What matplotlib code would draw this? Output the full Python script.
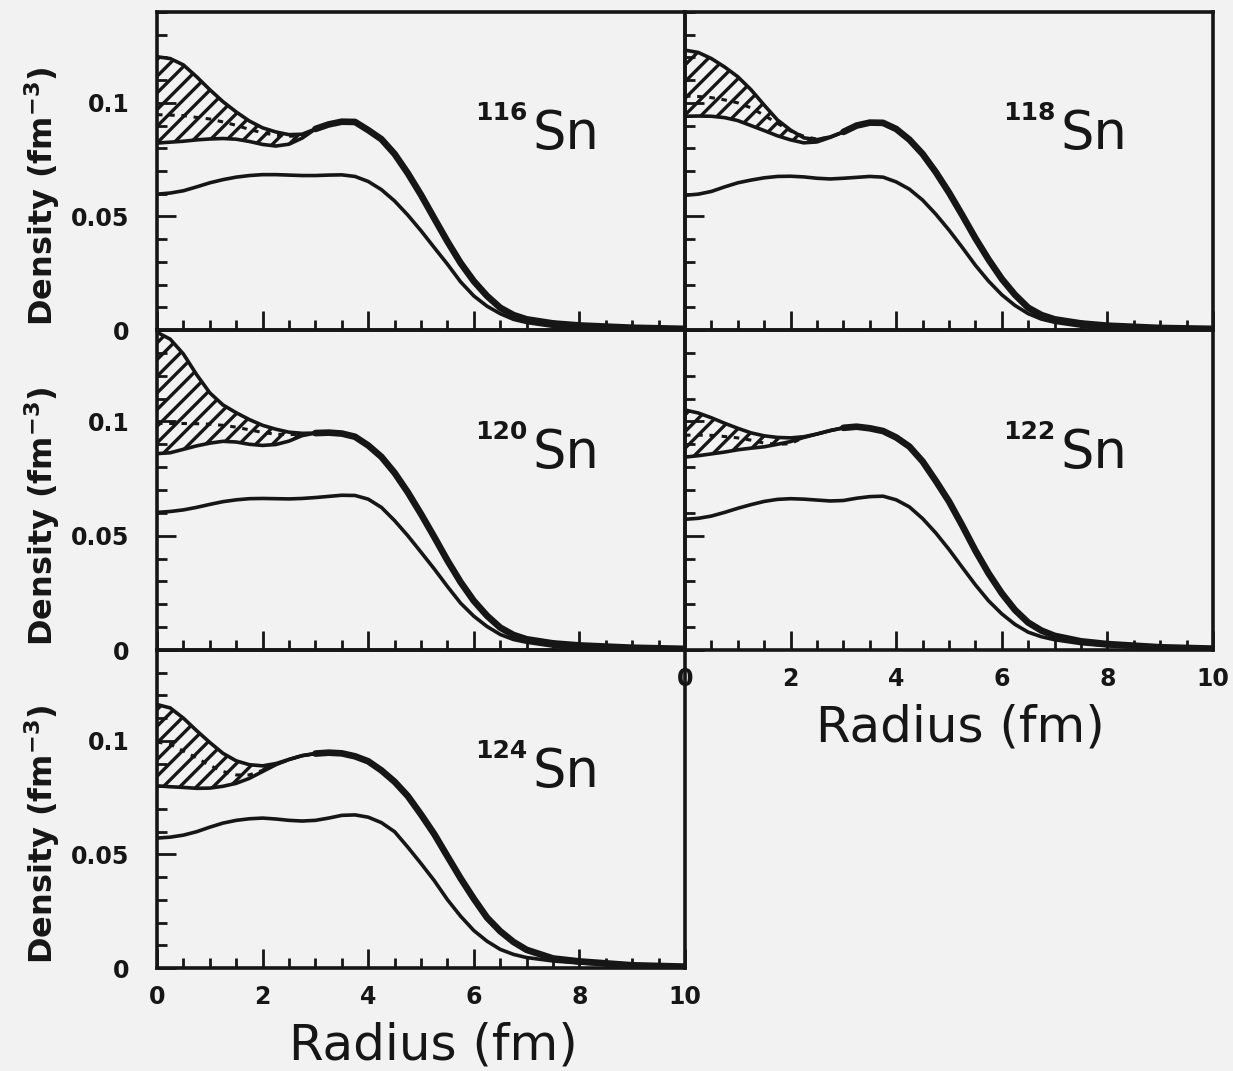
import numpy as np
import matplotlib.pyplot as plt
from matplotlib.ticker import MultipleLocator, FixedLocator

ink = '#161616'
paper = '#f2f2f2'

plt.rcParams['hatch.linewidth'] = 2.4
plt.rcParams['hatch.color'] = ink

# radius grids (fm)
r_band = [0, 0.25, 0.5, 0.75, 1, 1.25, 1.5, 1.75, 2, 2.25, 2.5, 2.75, 3]
r_tail = [3, 3.25, 3.5, 3.75, 4, 4.25, 4.5, 4.75, 5, 5.25, 5.5, 5.75, 6,
          6.25, 6.5, 6.75, 7, 7.5, 8, 9, 10]
r_full = [0, 0.25, 0.5, 0.75, 1, 1.25, 1.5, 1.75, 2, 2.25, 2.5, 2.75, 3,
          3.25, 3.5, 3.75, 4, 4.25, 4.5, 4.75, 5, 5.25, 5.5, 5.75, 6,
          6.25, 6.5, 6.75, 7, 7.5, 8, 9, 10]

# 116Sn
sn116_hi = [0.1203, 0.1195, 0.1167, 0.1115, 0.1058, 0.1005, 0.0960, 0.0920, 0.0890, 0.0872, 0.0860, 0.0862, 0.0885]
sn116_lo = [0.0823, 0.0827, 0.0831, 0.0837, 0.0841, 0.0843, 0.0840, 0.0830, 0.0817, 0.0810, 0.0818, 0.0845, 0.0885]
sn116_dash = [0.0948, 0.0946, 0.0944, 0.0936, 0.0929, 0.0916, 0.0901, 0.0883, 0.0868, 0.0858, 0.0853, 0.0855, 0.0885]
sn116_tot = [0.0885, 0.0905, 0.0917, 0.0916, 0.0880, 0.0840, 0.0775, 0.0690, 0.0595, 0.0492, 0.0390,
             0.0295, 0.0215, 0.0150, 0.0098, 0.0066, 0.0047, 0.0029, 0.0020, 0.0010, 0.0005]
sn116_in = [0.0598, 0.0603, 0.0613, 0.0630, 0.0648, 0.0662, 0.0673, 0.0680, 0.0684, 0.0684, 0.0682,
            0.0680, 0.0680, 0.0682, 0.0683, 0.0676, 0.0654, 0.0618, 0.0568, 0.0506, 0.0437, 0.0363,
            0.0290, 0.0212, 0.0150, 0.0105, 0.0072, 0.0047, 0.0033, 0.0016, 0.0008, 0.0002, 0.0001]

# 118Sn
sn118_hi = [0.1232, 0.1222, 0.1195, 0.1158, 0.1115, 0.1058, 0.0990, 0.0925, 0.0880, 0.0846, 0.0838, 0.0850, 0.0872]
sn118_lo = [0.0941, 0.0942, 0.0941, 0.0935, 0.0922, 0.0900, 0.0878, 0.0855, 0.0837, 0.0824, 0.0828, 0.0848, 0.0872]
sn118_dash = [0.1030, 0.1028, 0.1023, 0.1013, 0.1000, 0.0978, 0.0945, 0.0910, 0.0876, 0.0853, 0.0840, 0.0849, 0.0872]
sn118_tot = [0.0872, 0.0900, 0.0913, 0.0912, 0.0885, 0.0838, 0.0775, 0.0695, 0.0605, 0.0506, 0.0404,
             0.0310, 0.0225, 0.0155, 0.0098, 0.0066, 0.0047, 0.0029, 0.0019, 0.0009, 0.0005]
sn118_in = [0.0593, 0.0598, 0.0610, 0.0630, 0.0648, 0.0660, 0.0670, 0.0676, 0.0677, 0.0674, 0.0668,
            0.0665, 0.0668, 0.0672, 0.0676, 0.0673, 0.0652, 0.0620, 0.0572, 0.0510, 0.0440, 0.0364,
            0.0285, 0.0215, 0.0155, 0.0108, 0.0072, 0.0048, 0.0034, 0.0017, 0.0009, 0.0003, 0.0001]

# 120Sn
sn120_hi = [0.1390, 0.1360, 0.1295, 0.1205, 0.1125, 0.1072, 0.1038, 0.1008, 0.0983, 0.0966, 0.0953, 0.0948, 0.0949]
sn120_lo = [0.0859, 0.0863, 0.0878, 0.0893, 0.0905, 0.0913, 0.0910, 0.0900, 0.0895, 0.0899, 0.0914, 0.0938, 0.0949]
sn120_dash = [0.0991, 0.0991, 0.0991, 0.0990, 0.0988, 0.0983, 0.0975, 0.0963, 0.0952, 0.0944, 0.0942, 0.0945, 0.0949]
sn120_tot = [0.0949, 0.0951, 0.0947, 0.0933, 0.0895, 0.0845, 0.0775, 0.0690, 0.0595, 0.0495, 0.0392,
             0.0297, 0.0215, 0.0150, 0.0098, 0.0066, 0.0047, 0.0029, 0.0020, 0.0010, 0.0005]
sn120_in = [0.0602, 0.0606, 0.0613, 0.0624, 0.0637, 0.0649, 0.0657, 0.0662, 0.0663, 0.0662, 0.0661,
            0.0663, 0.0667, 0.0672, 0.0677, 0.0676, 0.0660, 0.0624, 0.0566, 0.0500, 0.0428, 0.0355,
            0.0278, 0.0205, 0.0148, 0.0103, 0.0068, 0.0046, 0.0034, 0.0017, 0.0009, 0.0003, 0.0001]

# 122Sn
sn122_hi = [0.1050, 0.1037, 0.1016, 0.0992, 0.0970, 0.0950, 0.0937, 0.0930, 0.0928, 0.0933, 0.0945, 0.0960, 0.0972]
sn122_lo = [0.0844, 0.0850, 0.0858, 0.0866, 0.0876, 0.0883, 0.0889, 0.0900, 0.0912, 0.0930, 0.0945, 0.0960, 0.0972]
sn122_dash = [0.0940, 0.0940, 0.0939, 0.0934, 0.0928, 0.0918, 0.0905, 0.0899, 0.0903, 0.0930, 0.0945, 0.0960, 0.0972]
sn122_tot = [0.0972, 0.0977, 0.0970, 0.0958, 0.0930, 0.0890, 0.0825, 0.0740, 0.0650, 0.0545, 0.0435,
             0.0335, 0.0248, 0.0175, 0.0120, 0.0085, 0.0062, 0.0038, 0.0026, 0.0012, 0.0006]
sn122_in = [0.0572, 0.0576, 0.0586, 0.0602, 0.0620, 0.0636, 0.0650, 0.0659, 0.0662, 0.0660, 0.0656,
            0.0652, 0.0654, 0.0664, 0.0671, 0.0673, 0.0657, 0.0626, 0.0575, 0.0512, 0.0440, 0.0362,
            0.0285, 0.0215, 0.0158, 0.0112, 0.0078, 0.0058, 0.0045, 0.0028, 0.0018, 0.0008, 0.0004]

# 124Sn
sn124_hi = [0.1160, 0.1145, 0.1100, 0.1045, 0.0993, 0.0945, 0.0912, 0.0895, 0.0890, 0.0900, 0.0918, 0.0935, 0.0944]
sn124_lo = [0.0802, 0.0798, 0.0795, 0.0791, 0.0792, 0.0800, 0.0813, 0.0835, 0.0865, 0.0895, 0.0918, 0.0935, 0.0944]
sn124_dash = [0.0995, 0.0985, 0.0955, 0.0925, 0.0892, 0.0865, 0.0850, 0.0850, 0.0870, 0.0895, 0.0918, 0.0935, 0.0944]
sn124_tot = [0.0944, 0.0948, 0.0945, 0.0932, 0.0910, 0.0870, 0.0820, 0.0757, 0.0676, 0.0590, 0.0492,
             0.0395, 0.0305, 0.0222, 0.0162, 0.0115, 0.0080, 0.0042, 0.0029, 0.0012, 0.0006]
sn124_in = [0.0572, 0.0576, 0.0585, 0.0600, 0.0620, 0.0638, 0.0650, 0.0657, 0.0660, 0.0656, 0.0650,
            0.0647, 0.0650, 0.0660, 0.0672, 0.0674, 0.0664, 0.0640, 0.0600, 0.0532, 0.0460, 0.0385,
            0.0301, 0.0228, 0.0165, 0.0118, 0.0082, 0.0060, 0.0046, 0.0031, 0.0022, 0.0010, 0.0005]

y_ticks = [0, 0.05, 0.1]
y_tick_labels = ['0', '0.05', '0.1']
x_ticks = [0, 2, 4, 6, 8, 10]
x_tick_labels = ['0', '2', '4', '6', '8', '10']


def draw_panel(ax, hi, lo, dash, tot, inner, mass, show_x, show_y):
    ax.fill_between(r_band, lo, hi, facecolor='none', edgecolor=ink, hatch='//', linewidth=0)
    ax.plot(r_band, hi, color=ink, lw=2.6, solid_joinstyle='round')
    ax.plot(r_band, lo, color=ink, lw=2.6, solid_joinstyle='round')
    ax.plot(r_band, dash, color=ink, lw=2.2, dashes=(1.8, 2.2))
    ax.plot(r_tail, tot, color=ink, lw=4.8, solid_capstyle='round', solid_joinstyle='round')
    ax.plot(r_full, inner, color=ink, lw=2.6, solid_joinstyle='round')

    ax.text(7.02, 0.0925, mass, ha='right', va='baseline', fontsize=18,
            fontweight='bold', color=ink)
    ax.text(7.12, 0.0795, 'Sn', ha='left', va='baseline', fontsize=38, color=ink)

    ax.set_xlim(0, 10)
    ax.set_ylim(0, 0.14)
    ax.set_facecolor('none')
    for s in ax.spines.values():
        s.set_linewidth(2.6)
        s.set_color(ink)

    ax.xaxis.set_major_locator(FixedLocator(x_ticks))
    ax.xaxis.set_minor_locator(MultipleLocator(0.5))
    ax.yaxis.set_major_locator(FixedLocator(y_ticks))
    ax.yaxis.set_minor_locator(MultipleLocator(0.01))
    ax.tick_params(which='both', direction='in', top=False, right=False, color=ink)
    ax.tick_params(which='major', length=14, width=2)
    ax.tick_params(which='minor', length=7, width=2)
    ax.tick_params(axis='y', which='major', pad=20)
    ax.tick_params(axis='x', which='major', pad=12)

    if show_y:
        ax.set_yticklabels(y_tick_labels, fontsize=17, fontweight='bold', color=ink)
    else:
        ax.set_yticklabels([])
    if show_x:
        ax.set_xticklabels(x_tick_labels, fontsize=17, fontweight='bold', color=ink)
    else:
        ax.set_xticklabels([])


fig = plt.figure(figsize=(12.33, 10.71), dpi=100)
fig.patch.set_facecolor(paper)

W, H = 1233.0, 1071.0
left_x, right_x, col_w = 157 / W, 685 / W, 528 / W
rows = [(12, 330), (330, 650), (650, 968)]


def box(col_x, row):
    top, bot = rows[row]
    return [col_x, 1 - bot / H, col_w, (bot - top) / H]


ax1 = fig.add_axes(box(left_x, 0))
ax2 = fig.add_axes(box(right_x, 0))
ax3 = fig.add_axes(box(left_x, 1))
ax4 = fig.add_axes(box(right_x, 1))
ax5 = fig.add_axes(box(left_x, 2))

draw_panel(ax1, sn116_hi, sn116_lo, sn116_dash, sn116_tot, sn116_in, '116', False, True)
draw_panel(ax2, sn118_hi, sn118_lo, sn118_dash, sn118_tot, sn118_in, '118', False, False)
draw_panel(ax3, sn120_hi, sn120_lo, sn120_dash, sn120_tot, sn120_in, '120', False, True)
draw_panel(ax4, sn122_hi, sn122_lo, sn122_dash, sn122_tot, sn122_in, '122', True, False)
draw_panel(ax5, sn124_hi, sn124_lo, sn124_dash, sn124_tot, sn124_in, '124', True, True)

# axis titles
for yc in [196, 516, 834]:
    fig.text(42 / W, 1 - yc / H, r'Density (fm$^{\mathbf{-3}}$)', rotation=90,
             ha='center', va='center', fontsize=23, fontweight='bold', color=ink)

fig.text(433 / W, 1 - 1045 / H, 'Radius (fm)', ha='center', va='center', fontsize=36, color=ink)
fig.text(960 / W, 1 - 727 / H, 'Radius (fm)', ha='center', va='center', fontsize=36, color=ink)

fig.savefig('out.png', dpi=100, facecolor=paper)
